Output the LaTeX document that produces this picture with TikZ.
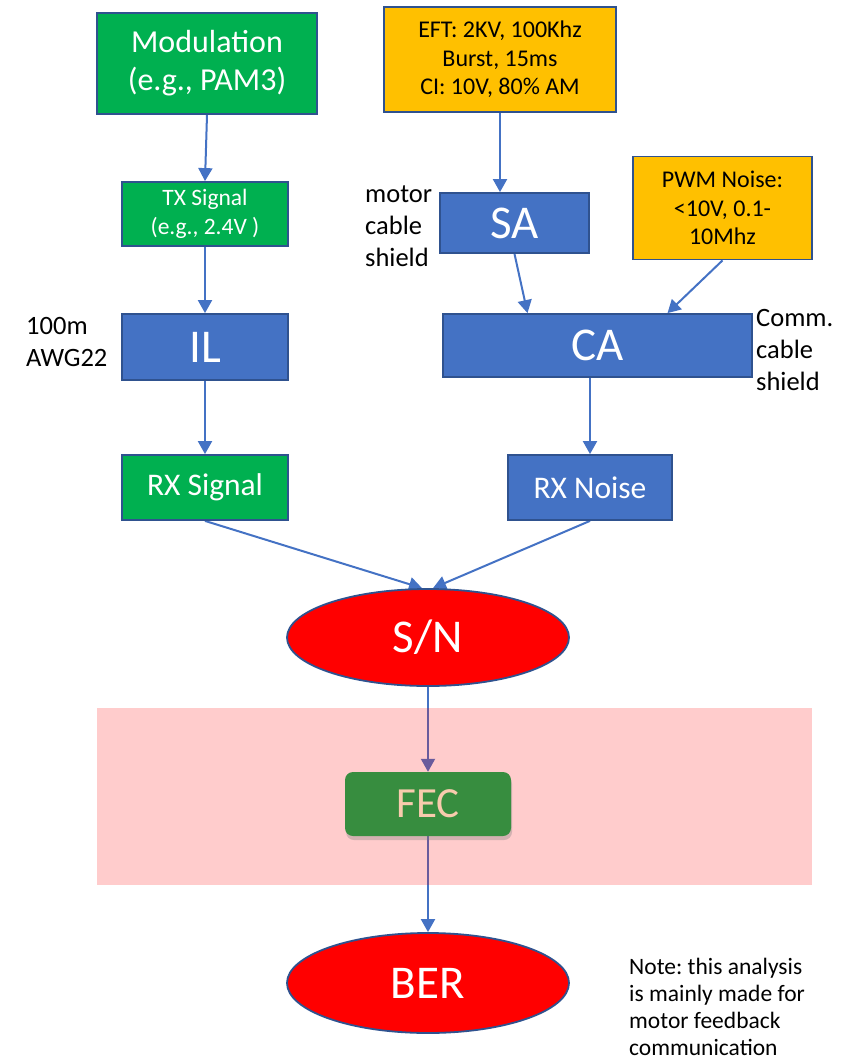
\documentclass[tikz,border=0pt]{standalone}
\usepackage{fontspec}
\setmainfont{Carlito}
\usetikzlibrary{arrows.meta,shadows,shapes.geometric}
\frenchspacing

\definecolor{edgeblue}{HTML}{2F528F}
\definecolor{flowblue}{HTML}{4472C4}
\definecolor{boxgreen}{HTML}{00B050}
\definecolor{boxorange}{HTML}{FFC000}
\definecolor{fecgreen}{HTML}{378D3F}
\definecolor{fectext}{HTML}{F8CBAD}

\pgfdeclarelayer{links}
\pgfdeclarelayer{band}
\pgfsetlayers{links,band,main}

\tikzset{
  blk/.style={draw=edgeblue, line width=1.8pt, inner sep=0pt, align=center},
  greenblk/.style={blk, fill=boxgreen, text=white},
  blueblk/.style={blk, fill=flowblue, text=white},
  orangeblk/.style={blk, fill=boxorange, text=black},
  oval/.style={ellipse, draw=edgeblue, line width=1.8pt, fill=red, text=white,
    inner sep=0pt, font=\fontsize{47}{55}\selectfont},
  huge/.style={font=\fontsize{47}{55}\selectfont},
  mid/.style={font=\fontsize{31.5}{36}\selectfont},
  small/.style={font=\fontsize{24}{28.5}\selectfont},
  side/.style={anchor=west, align=left, inner sep=0pt, font=\fontsize{26.5}{32}\selectfont},
  flow/.style={draw=flowblue, line width=2pt, -{Triangle[width=14pt,length=13pt]}},
}

\begin{document}
\begin{tikzpicture}[x=1pt,y=-1pt]
\useasboundingbox (0,0) rectangle (853,1060);

% transmit path
\node[greenblk, minimum width=220, minimum height=101,
  font=\fontsize{32}{38}\selectfont] (mod) at (207,63.5) {Modulation\\(e.g., PAM3)};
\node[greenblk, font=\fontsize{23.5}{29}\selectfont, minimum width=166, minimum height=64] (tx) at (205,214) {TX Signal\\(e.g., 2.4V )};
\node[blueblk, huge, minimum width=166, minimum height=66] (il) at (205,347) {IL};
\node[greenblk, mid, minimum width=166, minimum height=65] (rxs) at (205,487.5) {RX Signal};

% noise path
\node[orangeblk, small, minimum width=232, minimum height=105] (eft) at (500,59.5)
  {EFT: 2KV, 100Khz\\Burst, 15ms\\CI: 10V, 80\% AM};
\node[blueblk, huge, minimum width=149, minimum height=60] (sa) at (514.5,223) {SA};
\node[orangeblk, small, minimum width=179, minimum height=103] (pwm) at (722.5,208)
  {PWM Noise:\\<10V, 0.1-\\10Mhz};
\node[blueblk, huge, minimum width=309, minimum height=63] (ca) at (597.5,345.5) {CA};
\node[blueblk, mid, minimum width=164, minimum height=65] (rxn) at (590,487.5) {RX Noise};

% result chain
\node[oval, minimum width=282, minimum height=97] (sn) at (428,637.5) {S/N};
\node[fill=fecgreen, rounded corners=8pt, minimum width=166, minimum height=64,
  text=fectext, font=\fontsize{43}{50}\selectfont,
  drop shadow={shadow xshift=1pt, shadow yshift=-4pt, opacity=0.35}] (fec) at (428,804) {FEC};
\node[oval, minimum width=282, minimum height=100] (ber) at (428,983) {BER};

% side labels
\node[side] (motor) at (365,226) {motor\\cable\\shield};
\node[side] (awg) at (26,342) {100m\\AWG22};
\node[side] (comm) at (756,350) {Comm.\\cable\\shield};
\node[side, font=\fontsize{23.5}{27}\selectfont] (note) at (629,1007)
  {Note: this analysis\\is mainly made for\\motor feedback\\communication};

% connectors
\begin{pgfonlayer}{links}
\draw[flow] (mod.south) -- (tx.north);
\draw[flow] (tx.south) -- (il.north);
\draw[flow] (il.south) -- (rxs.north);
\draw[flow] (eft.south) -- (eft.south |- sa.north);
\draw[flow] (sa.south) -- ([xshift=13pt]sa.south |- ca.north);
\draw[flow] (pwm.south) -- ([xshift=70pt]ca.north);
\draw[flow] (ca.south -| rxn.north) -- (rxn.north);
\draw[flow] (rxs.south) -- ([xshift=-6pt]sn.north);
\draw[flow] (rxn.south) -- ([xshift=5pt]sn.north);
\draw[flow] (sn.south) -- (fec.north);
\draw[flow] (fec.south) -- (ber.north);
\end{pgfonlayer}

% translucent coding band
\begin{pgfonlayer}{band}
\fill[red, opacity=0.2] (97,708) rectangle (812,885);
\end{pgfonlayer}
\end{tikzpicture}
\end{document}
